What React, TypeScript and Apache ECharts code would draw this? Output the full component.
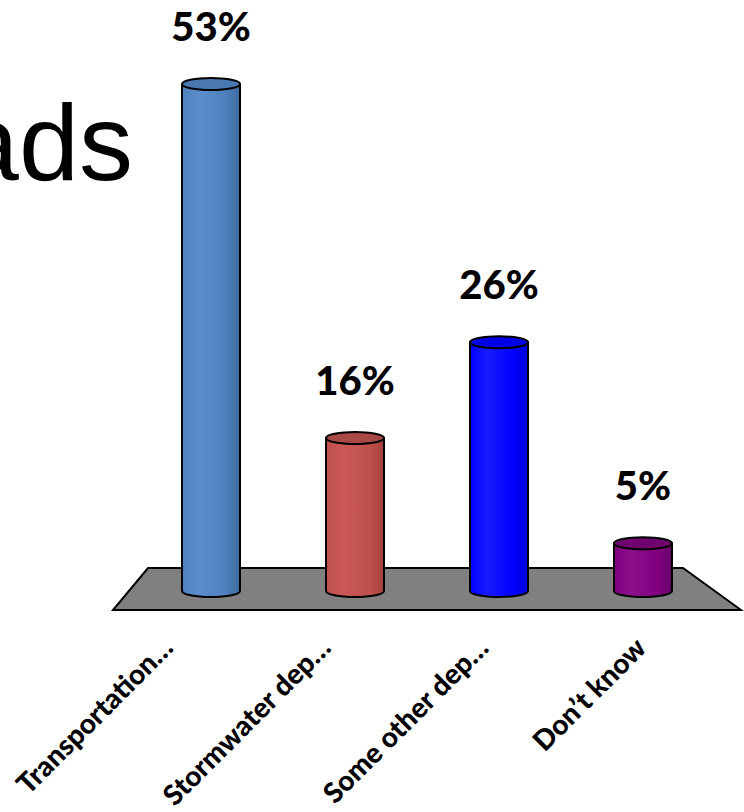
import React, { useEffect, useRef } from "react";
import * as echarts from "echarts";

const categories = ["Transportation…", "Stormwater dep…", "Some other dep…", "Don’t know"];
const values = [53, 16, 26, 5];
const bodyLight = ["#5B8DCC", "#CB5A57", "#1A1AFF", "#8C108C"];
const bodyBase = ["#4F81BD", "#C0504D", "#0000FF", "#800080"];
const bodyDark = ["#3F6A9F", "#A4423F", "#0000DA", "#680068"];
const capColors = ["#4A79B2", "#A94946", "#0000E6", "#700070"];

const GRID_LEFT = 139;
const GRID_WIDTH = 576;
const GRID_TOP = 17;
const ZERO_Y = 591;
const H = 812;
const LABEL_GRID_LEFT = 88;
const LABEL_GRID_WIDTH = 631;

export default function App() {
  const ref = useRef<HTMLDivElement>(null);
  useEffect(() => {
    if (!ref.current) return;
    const chart = echarts.init(ref.current, null, { renderer: "svg" });
    const gridRight = GRID_LEFT + GRID_WIDTH;
    const option: any = {
      animation: false,
      grid: [
        { left: GRID_LEFT, width: GRID_WIDTH, top: GRID_TOP, bottom: H - ZERO_Y },
        { left: LABEL_GRID_LEFT, width: LABEL_GRID_WIDTH, top: GRID_TOP, bottom: H - ZERO_Y },
      ],
      xAxis: [
        {
          type: "category",
          gridIndex: 0,
          data: categories,
          axisLine: { show: false },
          axisTick: { show: false },
          axisLabel: { show: false },
        },
        {
          type: "category",
          gridIndex: 1,
          data: categories,
          axisLine: { show: false },
          axisTick: { show: false },
          axisLabel: {
            interval: 0,
            rotate: 45,
            margin: 67,
            fontFamily: "Lato",
            fontWeight: 900,
            fontSize: 28,
            color: "#000",
          },
        },
      ],
      yAxis: [
        { type: "value", gridIndex: 0, min: 0, max: 60, show: false, splitLine: { show: false } },
        { type: "value", gridIndex: 1, min: 0, max: 60, show: false, splitLine: { show: false } },
      ],
      graphic: [
        {
          type: "text",
          style: {
            x: 133,
            y: 88,
            text: "ads",
            textAlign: "right",
            textVerticalAlign: "top",
            font: "108px 'Liberation Sans', Arial, sans-serif",
            fill: "#000",
          },
          z: 0,
        },
        {
          type: "polygon",
          z: 0,
          shape: {
            points: [
              [GRID_LEFT + 9, ZERO_Y - 23],
              [gridRight - 32, ZERO_Y - 23],
              [gridRight + 26, ZERO_Y + 19],
              [GRID_LEFT - 26, ZERO_Y + 19],
            ],
          },
          style: { fill: "#808080", stroke: "#000", lineWidth: 2 },
        },
      ],
      series: [
        {
          type: "custom",
          xAxisIndex: 0,
          yAxisIndex: 0,
          z: 5,
          data: values.map((v, i) => [i, v]),
          renderItem: (params: any, api: any) => {
            const i = api.value(0);
            const v = api.value(1);
            const top = api.coord([i, v]);
            const bot = api.coord([i, 0]);
            const cx = top[0];
            const rx = 29;
            const ry = 6;
            const l = cx - rx;
            const r = cx + rx;
            const t = top[1];
            const b = bot[1];
            const pathData = `M${l},${t} L${l},${b} A${rx},${ry} 0 0 0 ${r},${b} L${r},${t} Z`;
            return {
              type: "group",
              children: [
                {
                  type: "path",
                  shape: { pathData },
                  style: {
                    fill: new echarts.graphic.LinearGradient(0, 0, 1, 0, [
                      { offset: 0, color: bodyBase[i] },
                      { offset: 0.3, color: bodyLight[i] },
                      { offset: 0.75, color: bodyBase[i] },
                      { offset: 1, color: bodyDark[i] },
                    ]),
                    stroke: "#000",
                    lineWidth: 2,
                  },
                },
                {
                  type: "ellipse",
                  shape: { cx, cy: t, rx, ry },
                  style: { fill: capColors[i], stroke: "#000", lineWidth: 2 },
                },
                {
                  type: "text",
                  style: {
                    x: cx,
                    y: t - ry - 32,
                    text: v + "%",
                    textAlign: "center",
                    textVerticalAlign: "bottom",
                    font: "900 40px Lato, sans-serif",
                    fill: "#000",
                  },
                },
              ],
            };
          },
        },
      ],
    };
    chart.setOption(option);
    return () => chart.dispose();
  }, []);
  return <div ref={ref} style={{ width: 744, height: 812, position: "absolute", left: 0, top: 0, background: "#fff" }} />;
}
